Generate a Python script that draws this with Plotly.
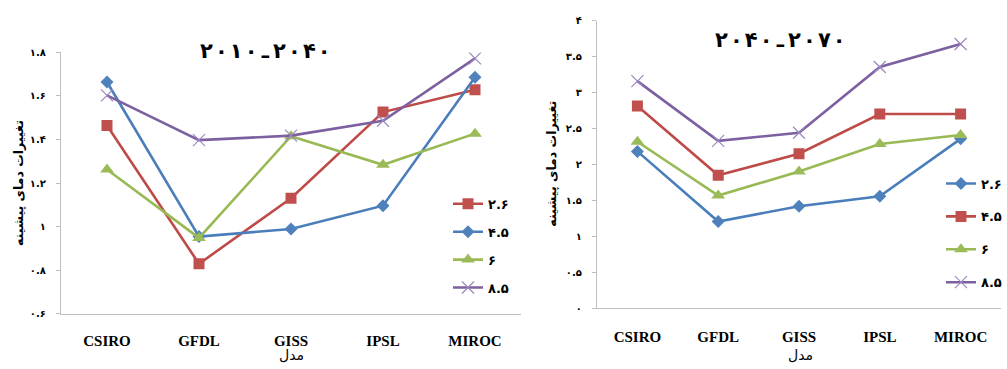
import plotly.graph_objects as go

W, H = 1007, 369

models = ["CSIRO", "GFDL", "GISS", "IPSL", "MIROC"]

# 2010-2040 temperature change by model
p1_s1 = [1.464, 0.829, 1.130, 1.526, 1.629]
p1_s2 = [1.664, 0.954, 0.989, 1.096, 1.686]
p1_s3 = [1.262, 0.948, 1.415, 1.284, 1.427]
p1_s4 = [1.603, 1.397, 1.418, 1.486, 1.773]
p1_names = ["۲.۶", "۴.۵", "۶", "۸.۵"]

# 2040-2070 temperature change by model
p2_s1 = [2.180, 1.205, 1.417, 1.555, 2.354]
p2_s2 = [2.810, 1.847, 2.147, 2.700, 2.700]
p2_s3 = [2.314, 1.565, 1.900, 2.282, 2.408]
p2_s4 = [3.157, 2.327, 2.439, 3.354, 3.673]
p2_names = ["۲.۶", "۴.۵", "۶", "۸.۵"]

y1_ticks = [0.6, 0.8, 1.0, 1.2, 1.4, 1.6, 1.8]
y1_labels = ["۰.۶", "۰.۸", "۱", "۱.۲", "۱.۴", "۱.۶", "۱.۸"]
y2_ticks = [0, 0.5, 1, 1.5, 2, 2.5, 3, 3.5, 4]
y2_labels = ["۰", "۰.۵", "۱", "۱.۵", "۲", "۲.۵", "۳", "۳.۵", "۴"]

title1 = "۲۰۱۰\u200eـ\u200e۲۰۴۰"
title2 = "۲۰۴۰\u200eـ\u200e۲۰۷۰"
ytitle = "تغییرات دمای پیشینه"
xtitle = "مدل"

FONT = "Liberation Serif, Times New Roman, DejaVu Sans, serif"
PFONT = "DejaVu Sans, Liberation Serif, sans-serif"

BLUE = dict(line="#4A7EBB", marker="#4F81BD", symbol="diamond", size=10)
RED = dict(line="#BE4B48", marker="#C0504D", symbol="square", size=11)
GREEN = dict(line="#98B954", marker="#9BBB59", symbol="triangle-up", size=12)
PURPLE = dict(line="#7D60A0", marker="#9C88C0", symbol="x-thin", size=12)


def px_x(p):
    return p / W


def px_y(p):
    return (H - p) / H


def spaced(s):
    # open up the glyph spacing of the heading digits
    return "\u200a".join(s)


def trace(vals, name, style, xa, ya, legend, group):
    if style["symbol"] == "x-thin":
        marker = dict(symbol="x-thin", size=style["size"],
                      line=dict(width=1.2, color=style["marker"]))
    else:
        marker = dict(symbol=style["symbol"], size=style["size"],
                      color=style["marker"], line=dict(width=0))
    return go.Scatter(x=models, y=vals, name=name, mode="lines+markers",
                      line=dict(color=style["line"], width=2.6),
                      marker=marker, xaxis=xa, yaxis=ya,
                      legend=legend, legendgroup=group)


fig = go.Figure()
left_styles = [RED, BLUE, GREEN, PURPLE]
for i, (vals, st) in enumerate(zip([p1_s1, p1_s2, p1_s3, p1_s4], left_styles)):
    fig.add_trace(trace(vals, p1_names[i], st, "x", "y", "legend", f"a{i}"))
right_styles = [BLUE, RED, GREEN, PURPLE]
for i, (vals, st) in enumerate(zip([p2_s1, p2_s2, p2_s3, p2_s4], right_styles)):
    fig.add_trace(trace(vals, p2_names[i], st, "x2", "y2", "legend2", f"b{i}"))

axis_common = dict(showgrid=False, zeroline=False, showline=True,
                   linecolor="#BFBFBF", linewidth=1.3)

fig.update_layout(
    width=W, height=H, margin=dict(l=0, r=0, t=0, b=0),
    paper_bgcolor="white", plot_bgcolor="white",
    font=dict(family=FONT, color="black"),
    xaxis=dict(domain=[px_x(61), px_x(521)], anchor="y", type="category",
               range=[-0.5, 4.5], ticks="", **axis_common,
               tickfont=dict(family=FONT, size=15, weight="bold"),
               ticklabelstandoff=13),
    yaxis=dict(domain=[px_y(318), px_y(48)], anchor="x", range=[0.6, 1.8],
               tickvals=y1_ticks, ticktext=y1_labels, ticks="outside",
               ticklen=4, tickcolor="#BFBFBF", **axis_common,
               tickfont=dict(family=PFONT, size=10, weight="bold"),
               ticklabelstandoff=8),
    xaxis2=dict(domain=[px_x(597), px_x(1001)], anchor="y2", type="category",
                range=[-0.5, 4.5], ticks="", **axis_common,
                tickfont=dict(family=FONT, size=15, weight="bold"),
                ticklabelstandoff=15),
    yaxis2=dict(domain=[px_y(312.3), px_y(15)], anchor="x2", range=[0, 4],
                tickvals=y2_ticks, ticktext=y2_labels, ticks="outside",
                ticklen=4, tickcolor="#BFBFBF", **axis_common,
                tickfont=dict(family=PFONT, size=10, weight="bold"),
                ticklabelstandoff=8),
    legend=dict(x=px_x(448), y=px_y(189), xanchor="left", yanchor="top",
                bgcolor="rgba(0,0,0,0)", traceorder="grouped",
                tracegroupgap=8, itemwidth=30,
                font=dict(family=PFONT, size=13, weight="bold")),
    legend2=dict(x=px_x(941), y=px_y(168), xanchor="left", yanchor="top",
                 bgcolor="rgba(0,0,0,0)", traceorder="grouped",
                 tracegroupgap=13, itemwidth=30,
                 font=dict(family=PFONT, size=13, weight="bold")),
    showlegend=True,
)

ann = [
    dict(text=spaced(title1), x=px_x(265), y=px_y(47), size=21, bold=True, angle=0),
    dict(text=spaced(title2), x=px_x(780), y=px_y(35), size=21, bold=True, angle=0),
    dict(text=ytitle, x=px_x(18), y=px_y(183), size=12.5, bold=True, angle=-90),
    dict(text=ytitle, x=px_x(552), y=px_y(163), size=12.5, bold=True, angle=-90),
    dict(text=xtitle, x=px_x(291), y=px_y(361), size=14, bold=False, angle=0),
    dict(text=xtitle, x=px_x(800), y=px_y(361), size=14, bold=False, angle=0),
]
for a in ann:
    fig.add_annotation(text=a["text"], x=a["x"], y=a["y"], xref="paper",
                       yref="paper", showarrow=False, textangle=a["angle"],
                       xanchor="center", yanchor="middle",
                       font=dict(family=PFONT, size=a["size"], color="black",
                                 weight="bold" if a["bold"] else "normal"))

fig.write_html("out.html")
